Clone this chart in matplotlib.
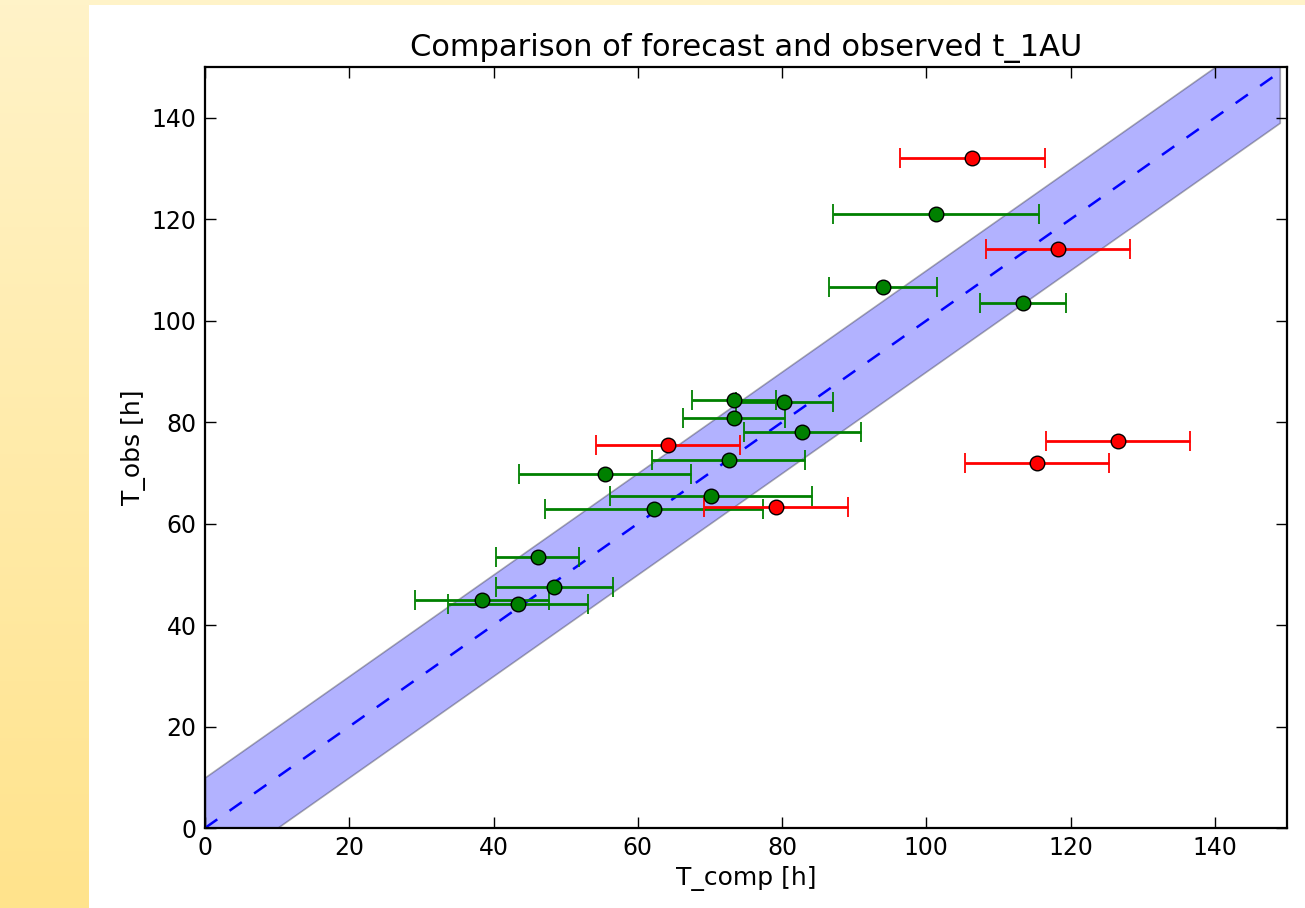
import numpy as np
import matplotlib
matplotlib.use("Agg")
import matplotlib.pyplot as plt

# transit times in hours
green_comp = [101.3, 94.0, 113.4, 73.3, 80.3, 73.3, 82.8, 72.6, 55.45, 70.2, 62.2, 46.1, 48.4, 38.45, 43.4]
green_obs = [121.0, 106.7, 103.5, 84.4, 84.0, 80.8, 78.1, 72.5, 69.7, 65.5, 62.8, 53.5, 47.6, 44.9, 44.2]
green_err = [14.3, 7.5, 5.9, 5.8, 6.7, 7.1, 8.1, 10.6, 11.9, 14.0, 15.1, 5.7, 8.1, 9.3, 9.7]

red_comp = [106.4, 118.3, 126.6, 115.3, 64.15, 79.15]
red_obs = [132.0, 114.1, 76.3, 71.9, 75.5, 63.3]
red_err = [10, 10, 10, 10, 10, 10]

# ideal line and +/- band
line_x = np.arange(0, 150)
band = 10

fig = plt.figure(figsize=(13.05, 9.08), dpi=100)
fig.patch.set_facecolor("white")

# slide background: yellow strip on the left and a thin one on top
grad = np.linspace(0, 1, 256).reshape(-1, 1)
top_col = np.array([255, 243, 200]) / 255
bot_col = np.array([255, 227, 140]) / 255
img = top_col[None, None, :] * (1 - grad[:, :, None]) + bot_col[None, None, :] * grad[:, :, None]
bg_left = fig.add_axes([0, 0, 89 / 1305, 1])
bg_left.imshow(img, aspect="auto", extent=[0, 1, 0, 1])
bg_left.axis("off")
bg_top = fig.add_axes([0, 1 - 5 / 908, 1, 5 / 908])
bg_top.set_facecolor(top_col)
bg_top.set_xticks([])
bg_top.set_yticks([])
for s in bg_top.spines.values():
    s.set_visible(False)

ax = fig.add_axes([205 / 1305, 1 - 828 / 908, 1082 / 1305, 761 / 908])

ax.fill_between(line_x, line_x - band, line_x + band, color="b", alpha=0.3,
                edgecolor="k", linewidth=1.2)
ax.plot(line_x, line_x, "b--", linewidth=1.8, dashes=(6, 6))

ax.errorbar(green_comp, green_obs, xerr=green_err, fmt="o", color="g",
            ecolor="g", mfc="g", mec="k", ms=10.5, elinewidth=2, capsize=7,
            capthick=1.3, zorder=3)
ax.errorbar(red_comp, red_obs, xerr=red_err, fmt="o", color="r",
            ecolor="r", mfc="r", mec="k", ms=10.5, elinewidth=2, capsize=7,
            capthick=1.3, zorder=3)

ax.set_xlim(0, 150)
ax.set_ylim(0, 150)
ax.set_xticks(range(0, 141, 20))
ax.set_yticks(range(0, 141, 20))
ax.tick_params(direction="in", top=True, right=True, length=8, width=1,
               labelsize=17, pad=6)
for s in ax.spines.values():
    s.set_linewidth(1.6)

ax.set_title("Comparison of forecast and observed t_1AU", fontsize=22, pad=8)
ax.set_xlabel("T_comp [h]", fontsize=18)
ax.set_ylabel("T_obs [h]", fontsize=18)

fig.savefig("out.png", dpi=100, facecolor=fig.get_facecolor())
